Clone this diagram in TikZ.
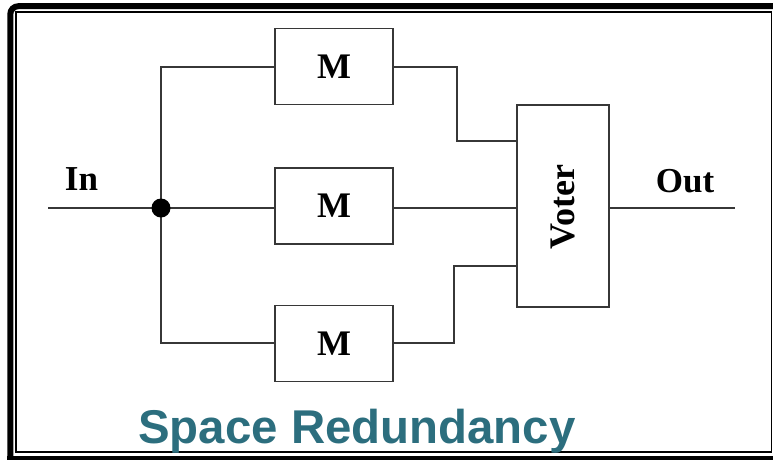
\documentclass[tikz,border=0pt]{standalone}
\usepackage{fontspec}
\setmainfont{Liberation Serif}
\setsansfont{Liberation Sans}
\definecolor{titleteal}{RGB}{44,110,126}
\definecolor{wire}{RGB}{55,55,55}
\begin{document}
\begin{tikzpicture}[x=1pt,y=-1pt,
  wireline/.style={draw=wire,line width=1.8pt},
  modbox/.style={draw=wire,line width=1.8pt,rectangle,minimum width=118pt,minimum height=76pt,inner sep=0pt,
    font=\fontsize{36}{40}\selectfont\bfseries},
  votebox/.style={draw=wire,line width=1.8pt,rectangle,minimum width=92pt,minimum height=202pt,inner sep=0pt},
  lbl/.style={font=\fontsize{35}{40}\selectfont\bfseries,inner sep=0pt,anchor=base}]
\useasboundingbox (0,0) rectangle (773,459);
\begin{scope}
\clip (0,0) rectangle (773,459);
% double frame: heavy outer band, thin inner rule
\draw[line width=6pt,rounded corners=8pt] (10.3,470) -- (10.3,6.2) -- (790,6.2);
\fill (7.3,455.8) rectangle (780,462);
\draw[line width=1.8pt] (15.7,12.3) rectangle (771.5,451.7);
\end{scope}

% modules and voter
\node[modbox] (m1) at (334,66.5) {M};
\node[modbox] (m2) at (334,206) {M};
\node[modbox] (m3) at (334,343.5) {M};
\node[votebox] (v) at (563,206) {};
\node[font=\fontsize{36}{40}\selectfont\bfseries,rotate=90,inner sep=0pt] (vt) at (563,207) {Voter};

% input, fan-out and output
\coordinate (in) at (48,208);
\coordinate (j) at (161,208);
\coordinate (out) at (735,208);
\coordinate (c1) at (457,141);
\coordinate (c3) at (454,266);
\draw[wireline] (in) -- (j) -- (j -| m2.west);
\draw[wireline] (j) |- (m1.west |- 0,67);
\draw[wireline] (j) |- (m3.west |- 0,343);
\draw[wireline] (m1.east |- 0,67) -| (c1) -- (c1 -| v.west);
\draw[wireline] (m2.east |- j) -- (j -| v.west);
\draw[wireline] (m3.east |- 0,343) -| (c3) -- (c3 -| v.west);
\draw[wireline] (v.east |- out) -- (out);
\fill (j) circle (9.5pt);

% labels
\node[lbl] (inl) at (81.5,190) {In};
\node[lbl] (outl) at (685,192) {Out};
\node[font=\fontsize{47.4}{54}\selectfont\sffamily\bfseries,text=titleteal,inner sep=0pt,anchor=base] (title) at (357,443) {Space Redundancy};
\end{tikzpicture}
\end{document}
